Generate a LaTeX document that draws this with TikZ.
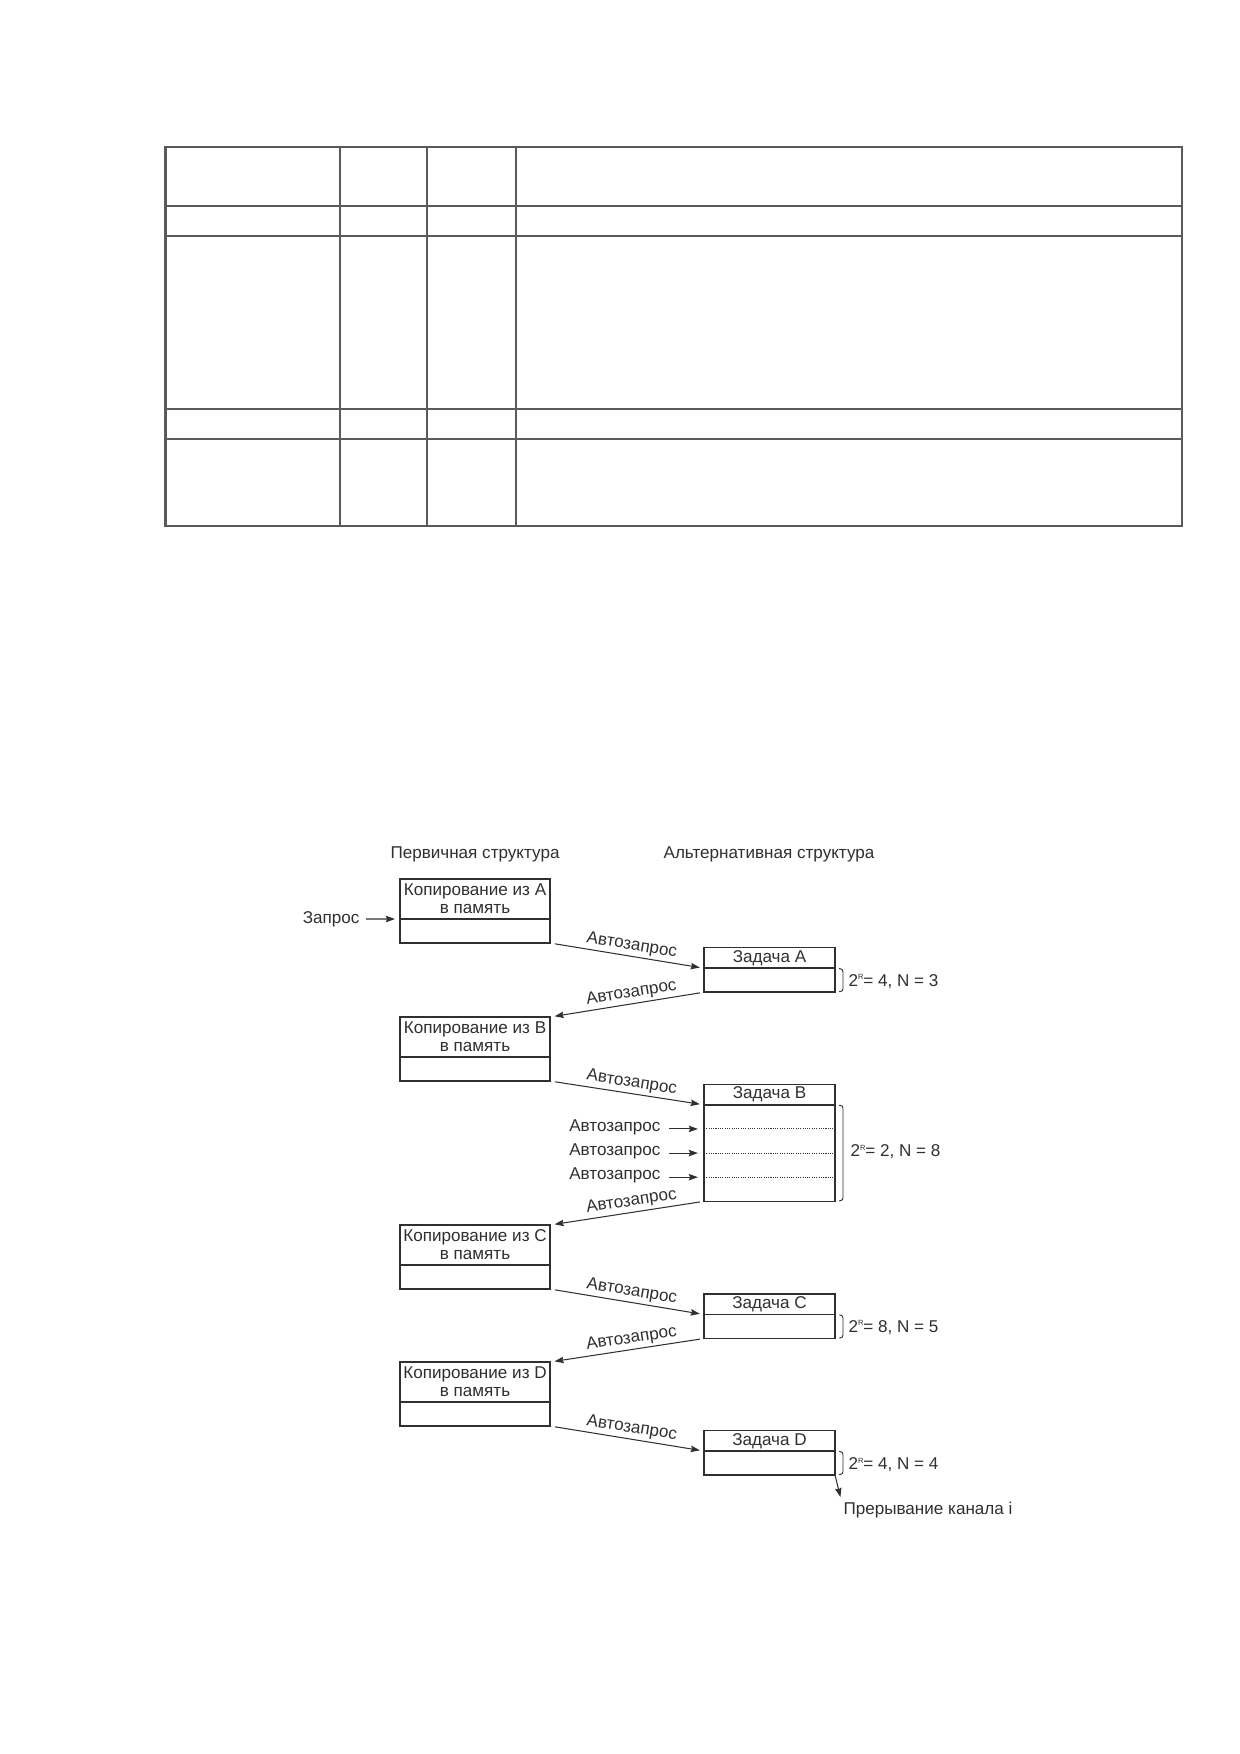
\documentclass[tikz,border=0pt]{standalone}
\usepackage{fontspec}
\setmainfont{Liberation Sans}
\usetikzlibrary{arrows.meta,calc}
\definecolor{ink}{HTML}{303030}
\definecolor{tline}{HTML}{5A5A5A}
\newcommand{\sR}{\raisebox{3.3pt}{\fontsize{3.6}{4}\selectfont R}}
\begin{document}
\begin{tikzpicture}[x=0.48pt,y=-0.48pt,
  txt/.style={text=ink, inner sep=1pt, font=\fontsize{8.2}{9.8}\selectfont},
  pcell/.style={draw=ink, line width=0.7pt, outer sep=0pt, minimum width=72pt, minimum height=19.2pt, inner sep=0pt, align=center, text=ink, font=\fontsize{8.2}{8.7}\selectfont},
  pbot/.style={draw=ink, line width=0.7pt, outer sep=0pt, minimum width=72pt, minimum height=11.52pt, inner sep=0pt},
  tcell/.style={draw=ink, line width=0.7pt, outer sep=0pt, minimum width=62.88pt, minimum height=9.84pt, inner sep=0pt, text=ink, font=\fontsize{8.2}{9.8}\selectfont},
  tbot/.style={draw=ink, line width=0.7pt, outer sep=0pt, minimum width=62.88pt, minimum height=11.52pt, inner sep=0pt},
  arr/.style={draw=ink, line width=0.5pt, -{Stealth[length=4.4pt,width=3.1pt,inset=0.6pt]}},
  lbl/.style={txt, sloped, above, pos=0.52, inner sep=1.2pt},
  lblr/.style={txt, sloped, above, pos=0.46, inner sep=1.2pt},
  br/.style={draw=ink, line width=0.45pt, rounded corners=1.4pt},
  dotline/.style={draw=ink, line width=0.5pt, dotted, dash pattern=on 0.5pt off 0.6pt},
  tbl/.style={draw=tline, line width=1.0pt}
]
\useasboundingbox (0,0) rectangle (1240,1754);
\fill[white] (0,0) rectangle (1240,1754);

% ---- table ----
\draw[tbl] (165.5,146.7) rectangle (1182,526);
\foreach \yy in {206,235.7,409,439} \draw[tbl] (165.5,\yy) -- (1182,\yy);
\foreach \xx in {340,427,516} \draw[tbl] (\xx,146.7) -- (\xx,526);

% ---- headings ----
\node[txt] (h1) at (475,854) {Первичная структура};
\node[txt] (h2) at (769,854) {Альтернативная структура};

% ---- primary boxes ----
\node[pcell, anchor=north] (pA) at (475,879) {Копирование из A\\в память};
\node[pbot, anchor=north] (pAb) at (pA.south) {};
\node[pcell, anchor=north] (pB) at (475,1017) {Копирование из B\\в память};
\node[pbot, anchor=north] (pBb) at (pB.south) {};
\node[pcell, anchor=north] (pC) at (475,1225) {Копирование из C\\в память};
\node[pbot, anchor=north] (pCb) at (pC.south) {};
\node[pcell, anchor=north] (pD) at (475,1362) {Копирование из D\\в память};
\node[pbot, anchor=north] (pDb) at (pD.south) {};

% ---- task boxes ----
\node[tcell, anchor=north] (tA) at (769.5,947.7) {Задача A};
\node[tbot, anchor=north] (tAb) at (tA.south) {};
\node[tcell, anchor=north] (tB) at (769.5,1084.3) {Задача B};
\node[tbot, anchor=north, minimum height=46.32pt] (tBb) at (tB.south) {};
\node[tcell, anchor=north] (tC) at (769.5,1294) {Задача C};
\node[tbot, anchor=north] (tCb) at (tC.south) {};
\node[tcell, anchor=north] (tD) at (769.5,1430.5) {Задача D};
\node[tbot, anchor=north] (tDb) at (tD.south) {};

% ---- request ----
\node[txt, anchor=east] (req) at (362,919) {Запрос};
\draw[arr, shorten <=2pt, shorten >=2.4pt] (req.east) -- (pA.south west);

% ---- autorequest arrows ----
\draw[arr, shorten <=2.4pt, shorten >=2pt] (pAb.south east) -- node[lbl] {Автозапрос} (tA.south west);
\draw[arr, shorten <=2pt, shorten >=2.2pt] (tAb.south west) -- node[lblr] {Автозапрос} (pB.north east);
\draw[arr, shorten <=2.4pt, shorten >=2pt] (pBb.south east) -- node[lbl] {Автозапрос} (tB.south west);
\draw[arr, shorten <=2pt, shorten >=2.2pt] (tBb.south west) -- node[lblr] {Автозапрос} (pC.north east);
\draw[arr, shorten <=2.4pt, shorten >=2pt] (pCb.south east) -- node[lbl] {Автозапрос} (tC.south west);
\draw[arr, shorten <=2pt, shorten >=2.2pt] (tCb.south west) -- node[lblr] {Автозапрос} (pD.north east);
\draw[arr, shorten <=2.4pt, shorten >=2pt] (pDb.south east) -- node[lbl] {Автозапрос} (tD.south west);

% ---- inner rows of task B ----
\foreach \i/\f in {1/0.25,2/0.5,3/0.75} {
  \coordinate (d\i l) at ($(tBb.north west)!\f!(tBb.south west)$);
  \coordinate (d\i r) at ($(tBb.north east)!\f!(tBb.south east)$);
  \draw[dotline] (d\i l) -- (d\i r);
  \node[txt, anchor=east] (ar\i) at ($(d\i l)+(-41,-1.5)$) {Автозапрос};
  \draw[arr, shorten <=3pt, shorten >=2.9pt] (ar\i.east |- d\i l) -- (d\i l);
}

% ---- brackets and parameters ----
\foreach \b in {tAb,tBb,tCb,tDb} {
  \draw[br] ($(\b.north east)+(4,0.5)$) -- ($(\b.north east)+(8,0.5)$) -- ($(\b.south east)+(8,-0.5)$) -- ($(\b.south east)+(4,-0.5)$);
}
\node[txt, anchor=west] (pa) at ($(tAb.east)+(11,1)$) {2\sR= 4, N = 3};
\node[txt, anchor=west] (pb) at ($(tBb.east)+(13,-1)$) {2\sR= 2, N = 8};
\node[txt, anchor=west] (pc) at ($(tCb.east)+(11,1)$) {2\sR= 8, N = 5};
\node[txt, anchor=west] (pd) at ($(tDb.east)+(11,2)$) {2\sR= 4, N = 4};

% ---- interrupt ----
\node[txt, anchor=west] (intr) at (841,1510) {Прерывание канала i};
\draw[arr, shorten >=1.2pt] (tDb.south east) -- (intr.north west);
\end{tikzpicture}
\end{document}
